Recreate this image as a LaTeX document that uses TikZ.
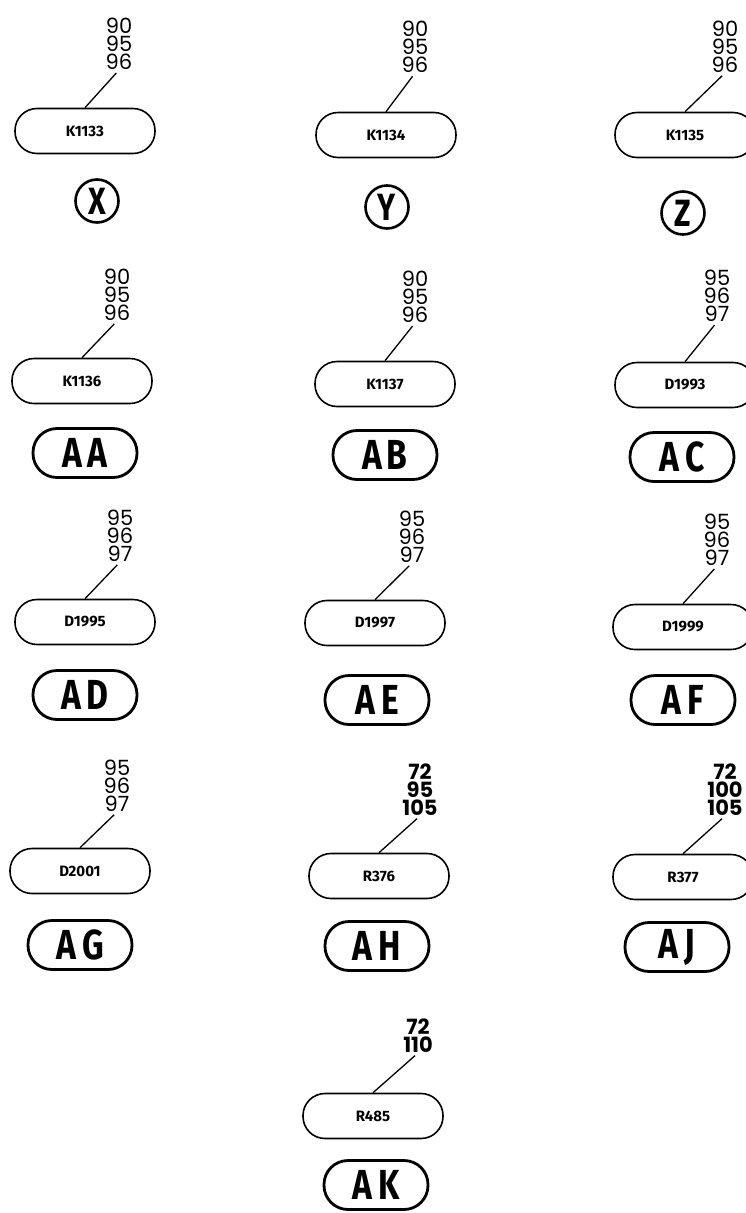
\documentclass[tikz,border=0pt]{standalone}
\usepackage{fontspec}
\setmainfont{Poppins}
\newfontfamily\labfont{Fira Sans}
\newfontfamily\tagfont[FakeStretch=0.8]{Fira Sans}
\begin{document}
\begin{tikzpicture}[x=1pt,y=-1pt,
  nums/.style={align=center,inner sep=0pt,font=\fontsize{21}{18}\selectfont},
  boldnums/.style={nums,font=\fontsize{21}{18}\selectfont\bfseries},
  plug/.style={draw,line width=1.6pt,rounded corners=22pt,minimum width=140pt,
    minimum height=45pt,font=\labfont\bfseries\fontsize{15}{15}\selectfont},
  tagone/.style={draw,circle,line width=2.6pt,minimum size=43pt,inner sep=0pt,
    font=\tagfont\bfseries\fontsize{38}{38}\selectfont},
  tagtwo/.style={draw,rounded corners=24pt,line width=2.8pt,minimum width=104pt,
    minimum height=49pt,inner sep=0pt,font=\tagfont\bfseries\fontsize{42}{42}\selectfont},
  link/.style={line width=1.3pt,shorten <=4pt}]
  \useasboundingbox (0,0) rectangle (746,1213);
  \node[plug] (b1133) at (85,131) {K1133};
  \node[nums,anchor=south] (n1133) at (119,70) {90\\95\\96};
  \draw[link] (n1133.south) -- (b1133.north);
  \node[tagone] (tX) at (97,201) {X};
  \node[plug] (b1134) at (386,135) {K1134};
  \node[nums,anchor=south] (n1134) at (415,73) {90\\95\\96};
  \draw[link] (n1134.south) -- (b1134.north);
  \node[tagone] (tY) at (387,207) {Y};
  \node[plug] (b1135) at (685,135) {K1135};
  \node[nums,anchor=south] (n1135) at (725,73) {90\\95\\96};
  \draw[link] (n1135.south) -- (b1135.north);
  \node[tagone] (tZ) at (683,213) {Z};
  \node[plug] (b1136) at (82,381) {K1136};
  \node[nums,anchor=south] (n1136) at (117,321) {90\\95\\96};
  \draw[link] (n1136.south) -- (b1136.north);
  \node[tagtwo] (tAA) at (85,453) {A\hspace{6pt}A};
  \node[plug] (b1137) at (385,384) {K1137};
  \node[nums,anchor=south] (n1137) at (415,323) {90\\95\\96};
  \draw[link] (n1137.south) -- (b1137.north);
  \node[tagtwo] (tAB) at (385,455) {A\hspace{4pt}B};
  \node[plug] (b1993) at (685,385) {D1993};
  \node[nums,anchor=south] (n1993) at (717,322) {95\\96\\97};
  \draw[link] (n1993.south) -- (b1993.north);
  \node[tagtwo] (tAC) at (682,457) {A\hspace{6pt}C};
  \node[plug] (b1995) at (85,622) {D1995};
  \node[nums,anchor=south] (n1995) at (120,562) {95\\96\\97};
  \draw[link] (n1995.south) -- (b1995.north);
  \node[tagtwo] (tAD) at (85,695) {A\hspace{6pt}D};
  \node[plug] (b1997) at (375,623) {D1997};
  \node[nums,anchor=south] (n1997) at (412,563) {95\\96\\97};
  \draw[link] (n1997.south) -- (b1997.north);
  \node[tagtwo] (tAE) at (377,700) {A\hspace{6pt}E};
  \node[plug] (b1999) at (683,627) {D1999};
  \node[nums,anchor=south] (n1999) at (717,566) {95\\96\\97};
  \draw[link] (n1999.south) -- (b1999.north);
  \node[tagtwo] (tAF) at (683,700) {A\hspace{6pt}F};
  \node[plug] (b2001) at (80,871) {D2001};
  \node[nums,anchor=south] (n2001) at (117,812) {95\\96\\97};
  \draw[link] (n2001.south) -- (b2001.north);
  \node[tagtwo] (tAG) at (80,945) {A\hspace{6pt}G};
  \node[plug] (b376) at (379,876) {R376};
  \node[boldnums,anchor=south] (n376) at (420,816) {72\\95\\105};
  \draw[link] (n376.south) -- (b376.north);
  \node[tagtwo] (tAH) at (377,946) {A\hspace{6pt}H};
  \node[plug] (b377) at (683,877) {R377};
  \node[boldnums,anchor=south] (n377) at (725,816) {72\\100\\105};
  \draw[link] (n377.south) -- (b377.north);
  \node[tagtwo] (tAJ) at (677,947) {A\hspace{6pt}J};
  \node[plug] (b485) at (373,1116) {R485};
  \node[boldnums,anchor=south] (n485) at (418,1053) {72\\110};
  \draw[link] (n485.south) -- (b485.north);
  \node[tagtwo] (tAK) at (376,1185) {A\hspace{6pt}K};
\end{tikzpicture}
\end{document}
